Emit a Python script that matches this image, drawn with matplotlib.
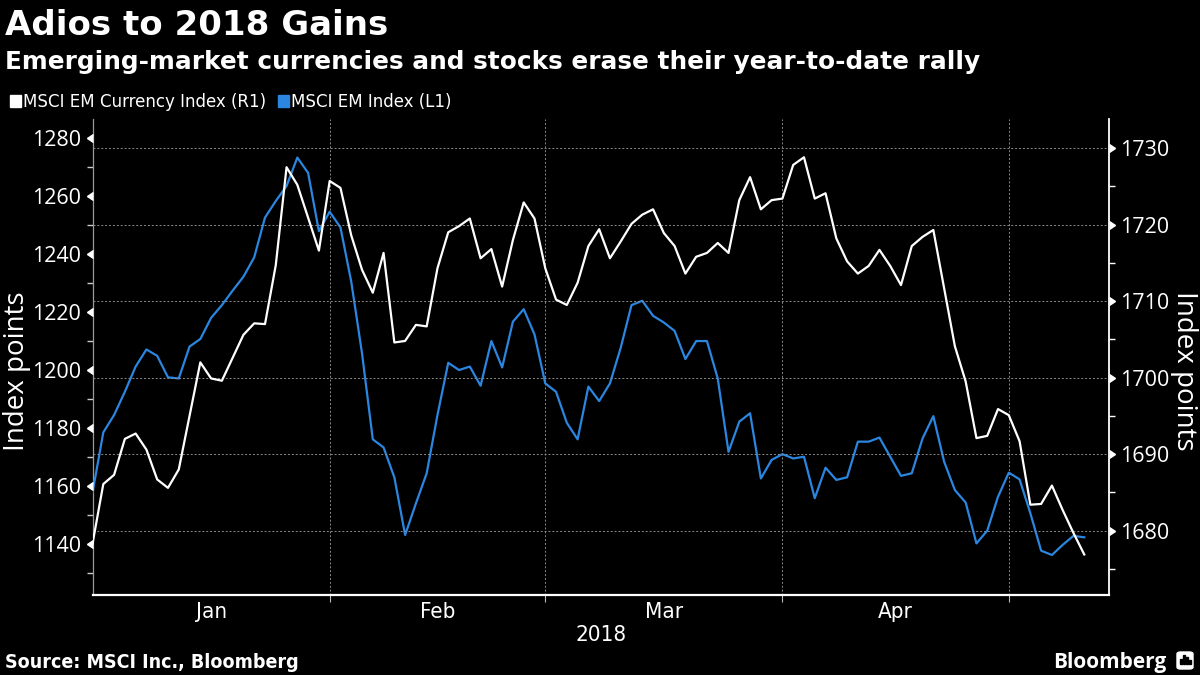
import numpy as np
import pandas as pd
import matplotlib
matplotlib.use('Agg')
import matplotlib.pyplot as plt
from matplotlib import font_manager
from matplotlib.patches import Rectangle, FancyBboxPatch

# ── DATA ────────────────────────────────────────────────────────
START_DATE = '2018-01-02'
END_DATE   = '2018-05-10'

# MSCI EM Index, left axis (L1)
em_index = [1157.7, 1178.5, 1184.5, 1192.5, 1201.2, 1207.1, 1204.9, 1197.5, 1197.1, 1208.1,
            1210.7, 1218.0, 1222.4, 1227.4, 1232.2, 1238.9, 1252.6, 1258.3, 1263.5, 1273.3,
            1268.0, 1247.9, 1254.6, 1249.2, 1230.5, 1205.8, 1176.1, 1173.3, 1163.0, 1143.1,
            1154.0, 1164.4, 1184.5, 1202.5, 1200.0, 1201.2, 1194.6, 1210.0, 1200.9, 1216.7,
            1221.0, 1212.3, 1195.4, 1192.5, 1181.8, 1176.1, 1194.3, 1189.3, 1195.4, 1207.7,
            1222.4, 1223.9, 1218.7, 1216.4, 1213.5, 1203.8, 1210.0, 1210.0, 1197.1, 1171.8,
            1182.2, 1185.1, 1162.6, 1169.0, 1171.0, 1169.5, 1170.1, 1155.8, 1166.3, 1162.1,
            1163.0, 1175.3, 1175.3, 1176.7, 1170.1, 1163.5, 1164.4, 1176.4, 1184.1, 1168.4,
            1158.6, 1154.3, 1140.2, 1144.6, 1156.3, 1164.6, 1162.3, 1150.6, 1137.7, 1136.2,
            1139.7, 1142.8, 1142.3]

# MSCI EM Currency Index, right axis (R1)
em_currency = [1678.3, 1686.1, 1687.3, 1692.0, 1692.7, 1690.6, 1686.7, 1685.6, 1688.0, 1695.0,
               1702.0, 1699.9, 1699.6, 1702.6, 1705.6, 1707.1, 1707.0, 1714.7, 1727.5, 1725.2,
               1720.9, 1716.6, 1725.7, 1724.8, 1718.6, 1714.1, 1711.1, 1716.3, 1704.6, 1704.8,
               1706.9, 1706.7, 1714.3, 1719.0, 1719.8, 1720.8, 1715.6, 1716.8, 1711.9, 1718.0,
               1722.9, 1720.8, 1714.3, 1710.2, 1709.5, 1712.4, 1717.2, 1719.4, 1715.6, 1717.8,
               1720.1, 1721.3, 1722.0, 1718.9, 1717.2, 1713.6, 1715.8, 1716.3, 1717.6, 1716.3,
               1723.2, 1726.2, 1722.0, 1723.2, 1723.4, 1727.8, 1728.8, 1723.4, 1724.1, 1718.2,
               1715.2, 1713.6, 1714.6, 1716.7, 1714.6, 1712.1, 1717.2, 1718.4, 1719.3, 1711.7,
               1704.1, 1699.5, 1692.1, 1692.4, 1695.9, 1695.1, 1691.7, 1683.4, 1683.5, 1685.9,
               1682.7, 1679.7, 1676.9]

left_ticks  = [1140, 1160, 1180, 1200, 1220, 1240, 1260, 1280]
right_ticks = [1680, 1690, 1700, 1710, 1720, 1730]
month_names = ['Jan', 'Feb', 'Mar', 'Apr']
legend_labels = ['MSCI EM Currency Index (R1)', 'MSCI EM Index (L1)']

TITLE    = 'Adios to 2018 Gains'
SUBTITLE = 'Emerging-market currencies and stocks erase their year-to-date rally'
SOURCE   = 'Source: MSCI Inc., Bloomberg'

# ── STYLE ───────────────────────────────────────────────────────
BG    = '#000000'
BLUE  = '#2b86e0'
GRID  = '#8a8a8a'

fonts = font_manager.fontManager.ttflist
installed = {f.name for f in fonts}
has_cond = any(f.name == 'DejaVu Sans' and 'condensed' in str(f.stretch) for f in fonts)
NARROW = dict(family='DejaVu Sans', stretch='condensed' if has_cond else 'normal')
REG    = 'Open Sans' if 'Open Sans' in installed else 'DejaVu Sans'

# ── X POSITIONS (trading days) ──────────────────────────────────
dates = pd.bdate_range(START_DATE, END_DATE)
x = np.arange(len(dates))
months = dates.month.values
bounds = [i for i in range(1, len(dates)) if months[i] != months[i - 1]]
label_pos = [(a + b) / 2 for a, b in zip([0] + bounds[:-1], bounds)]

# ── PLOT ────────────────────────────────────────────────────────
W, H = 1200, 675
fig = plt.figure(figsize=(12, 6.75), dpi=100)
fig.patch.set_facecolor(BG)

ax = fig.add_axes([0.0771, 0.1185, 0.8471, 0.7052])
ax.set_facecolor(BG)
ax2 = ax.twinx()

ax.plot(x, em_index, color=BLUE, linewidth=1.6, zorder=3)
ax2.plot(x, em_currency, color='white', linewidth=1.6, zorder=3)

ax.set_xlim(0, 94.3)
ax.set_ylim(1122.4, 1286.6)
ax2.set_ylim(1671.6, 1733.8)

# gridlines: horizontal at right ticks, vertical at month boundaries
for v in right_ticks:
    ax2.axhline(v, color=GRID, linestyle=(0, (2, 2)), linewidth=0.7, zorder=1)
for b in bounds:
    ax.axvline(b, color=GRID, linestyle=(0, (2, 2)), linewidth=0.7, zorder=1)

# spines
ax.spines['top'].set_visible(False)
ax2.spines['top'].set_visible(False)
ax.spines['left'].set_color('#9a9a9a')
ax.spines['left'].set_linewidth(0.9)
ax2.spines['left'].set_visible(False)
ax.spines['right'].set_visible(False)
ax2.spines['right'].set_color('white')
ax2.spines['right'].set_linewidth(1.3)
ax.spines['bottom'].set_color('white')
ax.spines['bottom'].set_linewidth(1.6)
ax2.spines['bottom'].set_visible(False)

# left y ticks
ax.set_yticks(left_ticks)
ax.set_yticks([v - 10 for v in left_ticks], minor=True)
ax.tick_params(axis='y', which='major', length=0, pad=8, labelsize=15.5,
               labelcolor='white')
ax.tick_params(axis='y', which='minor', length=4, width=1, color='#cccccc')
for lbl in ax.get_yticklabels():
    lbl.set_family(REG)

# right y ticks
ax2.set_yticks(right_ticks)
ax2.set_yticks([v - 5 for v in right_ticks], minor=True)
ax2.tick_params(axis='y', which='major', length=0, pad=8, labelsize=15.5,
                labelcolor='white')
ax2.tick_params(axis='y', which='minor', length=4, width=1, color='white')
for lbl in ax2.get_yticklabels():
    lbl.set_family(REG)

# triangle tick marks
ax.plot(np.zeros(len(left_ticks)), left_ticks, linestyle='none', marker=8,
        markersize=6, color='white', transform=ax.get_yaxis_transform(),
        clip_on=False, zorder=5)
ax2.plot(np.ones(len(right_ticks)), right_ticks, linestyle='none', marker=9,
         markersize=6, color='white', transform=ax2.get_yaxis_transform(),
         clip_on=False, zorder=5)

# x ticks: marks at month boundaries, labels centred in month
ax.set_xticks(bounds)
ax.set_xticklabels([''] * len(bounds))
ax.set_xticks(label_pos, minor=True)
ax.set_xticklabels(month_names, minor=True)
ax.tick_params(axis='x', which='major', length=5, width=0.8, color='#bbbbbb')
ax.tick_params(axis='x', which='minor', length=0, pad=5, labelsize=16,
               labelcolor='white')
for lbl in ax.get_xticklabels(minor=True):
    lbl.set_family(NARROW['family'])
    lbl.set_stretch(NARROW['stretch'])
ax.set_xlabel('2018', color='white', fontsize=16, labelpad=2, **NARROW)

# axis titles
fig.text(17 / W, 1 - 371 / H, 'Index points', rotation=90, color='white',
         fontsize=20, family=REG, ha='center', va='center')
fig.text(1184 / W, 1 - 371 / H, 'Index points', rotation=270, color='white',
         fontsize=20, family=REG, ha='center', va='center')

# title, subtitle
fig.text(5 / W, 1 - 35 / H, TITLE, color='white', fontsize=24.5,
         fontweight='bold', family='DejaVu Sans', va='baseline')
fig.text(5 / W, 1 - 69 / H, SUBTITLE, color='white', fontsize=17.8,
         fontweight='bold', family='DejaVu Sans', va='baseline')

# legend (second entry placed after the first text)
renderer = fig.canvas.get_renderer()
fig.patches.append(Rectangle((10 / W, 1 - 107 / H), 11 / W, 12 / H,
                             transform=fig.transFigure, color='white'))
t1 = fig.text(23 / W, 1 - 107 / H, legend_labels[0], color='white',
              fontsize=13.3, va='baseline', **NARROW)
x_end = t1.get_window_extent(renderer).x1
fig.patches.append(Rectangle(((x_end + 12) / W, 1 - 107 / H), 11 / W, 12 / H,
                             transform=fig.transFigure, color=BLUE))
fig.text((x_end + 25) / W, 1 - 107 / H, legend_labels[1], color='white',
         fontsize=13.3, va='baseline', **NARROW)

# footer
fig.text(5 / W, 1 - 668 / H, SOURCE, color='white', fontsize=14,
         fontweight='bold', va='baseline', **NARROW)
fig.text(1166 / W, 1 - 668 / H, 'Bloomberg', color='white', fontsize=15,
         fontweight='bold', family=REG, ha='right', va='baseline')
fig.patches.append(FancyBboxPatch((1177 / W, 1 - 669 / H), 16 / W, 17 / H,
                                  boxstyle='round,pad=0,rounding_size=0.003',
                                  transform=fig.transFigure, color='white'))
for k, h in enumerate([5, 9, 7, 4]):
    fig.patches.append(Rectangle(((1180 + k * 3) / W, 1 - 664 / H), 1.5 / W,
                                 h / H, transform=fig.transFigure, color='black'))

fig.savefig('out.png', dpi=100, facecolor=BG)
plt.close(fig)
